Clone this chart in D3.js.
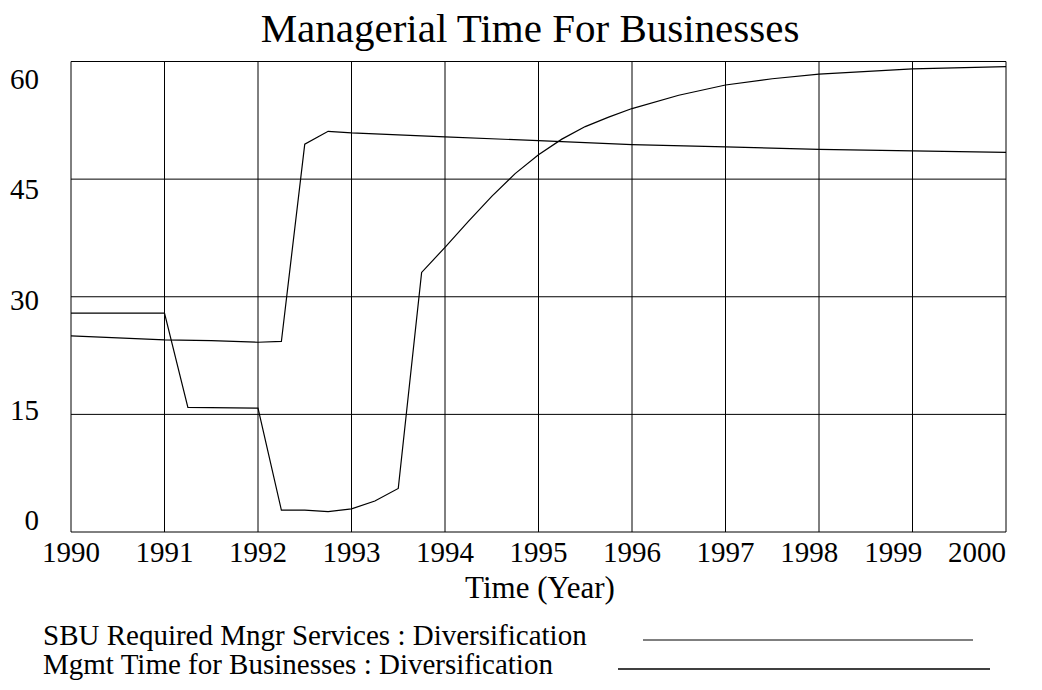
<!DOCTYPE html>
<html>
<head>
<meta charset="utf-8">
<script src="https://cdn.jsdelivr.net/npm/d3@7"></script>
<style>
  body { margin: 0; background: #fff; }
  svg { display: block; font-family: "Liberation Serif", "DejaVu Serif", serif; }
</style>
</head>
<body>
<svg id="svg" width="1042" height="690"></svg>
<script>
const width = 1042;
const height = 690;

const paddings = {
	left: 71,
	top: 61.5,
	right: 36,
	bottom: 158
};

const yearTicks = [1990, 1991, 1992, 1993, 1994, 1995, 1996, 1997, 1998, 1999, 2000];
const valueTicks = [0, 15, 30, 45, 60];

// SBU Required Mngr Services : Diversification
const sbuYears = [1990, 1991, 1991.5, 1992, 1992.25, 1992.5, 1992.75, 1993, 1994, 1995, 1996, 1997, 1998, 1999, 2000];
const sbuValues = [25.0, 24.5, 24.4, 24.2, 24.3, 49.45, 51.1, 50.9, 50.4, 49.9, 49.4, 49.1, 48.8, 48.6, 48.4];

// Mgmt Time for Businesses : Diversification
const mgmtYears = [1990, 1991, 1991.25, 1992, 1992.25, 1992.5, 1992.75, 1993, 1993.25, 1993.5, 1993.75,
	1994, 1994.25, 1994.5, 1994.75, 1995, 1995.25, 1995.5, 1995.75, 1996, 1996.5, 1997, 1997.5, 1998, 1999, 2000];
const mgmtValues = [27.9, 27.9, 15.9, 15.8, 2.8, 2.8, 2.6, 2.95, 3.95, 5.55, 33.1,
	36.3, 39.6, 42.8, 45.7, 48.1, 50.1, 51.7, 52.9, 54.0, 55.7, 57.0, 57.8, 58.4, 59.05, 59.35];

const series = [
	{ name: 'SBU Required Mngr Services : Diversification', years: sbuYears, values: sbuValues },
	{ name: 'Mgmt Time for Businesses : Diversification', years: mgmtYears, values: mgmtValues }
];

const svg = d3.select('#svg');

const xScale = d3.scaleLinear()
	.domain([1990, 2000])
	.range([paddings.left, width - paddings.right]);

const yScale = d3.scaleLinear()
	.domain([0, 60])
	.range([height - paddings.bottom, paddings.top]);

// tick labels get squeezed so the end ones stay inside the frame
const yLabelScale = d3.scaleLinear()
	.domain([0, 60])
	.range([520, 79]);

const xLabelScale = d3.scaleLinear()
	.domain([1990, 1997, 2000])
	.range([xScale(1990), xScale(1997), 977]);

// title
svg.append('text')
	.attr('x', 530)
	.attr('y', 42)
	.attr('text-anchor', 'middle')
	.attr('font-size', 41)
	.text('Managerial Time For Businesses');

// grid
const grid = svg.append('g').attr('stroke', '#000').attr('stroke-width', 1);

grid.selectAll('.vgrid')
	.data(yearTicks)
	.enter()
	.append('line')
	.attr('x1', d => xScale(d))
	.attr('x2', d => xScale(d))
	.attr('y1', yScale(0))
	.attr('y2', yScale(60));

grid.selectAll('.hgrid')
	.data(valueTicks)
	.enter()
	.append('line')
	.attr('x1', xScale(1990))
	.attr('x2', xScale(2000))
	.attr('y1', d => yScale(d))
	.attr('y2', d => yScale(d));

// axis labels
svg.append('g')
	.selectAll('text')
	.data(valueTicks)
	.enter()
	.append('text')
	.attr('x', 39)
	.attr('y', d => yLabelScale(d))
	.attr('dy', '0.35em')
	.attr('text-anchor', 'end')
	.attr('font-size', 29)
	.text(d => d);

svg.append('g')
	.selectAll('text')
	.data(yearTicks)
	.enter()
	.append('text')
	.attr('x', d => xLabelScale(d))
	.attr('y', 562)
	.attr('text-anchor', 'middle')
	.attr('font-size', 29)
	.text(d => d);

svg.append('text')
	.attr('x', 540)
	.attr('y', 598)
	.attr('text-anchor', 'middle')
	.attr('font-size', 31)
	.text('Time (Year)');

// data lines
const line = d3.line()
	.x(d => xScale(d[0]))
	.y(d => yScale(d[1]));

svg.append('g')
	.selectAll('path')
	.data(series)
	.enter()
	.append('path')
	.attr('d', s => line(s.years.map((y, i) => [y, s.values[i]])))
	.attr('fill', 'none')
	.attr('stroke', '#000')
	.attr('stroke-width', 1.2);

// legend
const legendRows = [
	{ y: 645, x1: 643, x2: 973 },
	{ y: 674, x1: 618, x2: 990 }
];

const legend = svg.append('g');

legend.selectAll('text')
	.data(series)
	.enter()
	.append('text')
	.attr('x', 43)
	.attr('y', (d, i) => legendRows[i].y)
	.attr('font-size', 29)
	.text(d => d.name);

legend.selectAll('line')
	.data(series)
	.enter()
	.append('line')
	.attr('x1', (d, i) => legendRows[i].x1)
	.attr('x2', (d, i) => legendRows[i].x2)
	.attr('y1', (d, i) => legendRows[i].y - 5)
	.attr('y2', (d, i) => legendRows[i].y - 5)
	.attr('stroke', '#000')
	.attr('stroke-width', (d, i) => i === 0 ? 1 : 1.5);
</script>
</body>
</html>
